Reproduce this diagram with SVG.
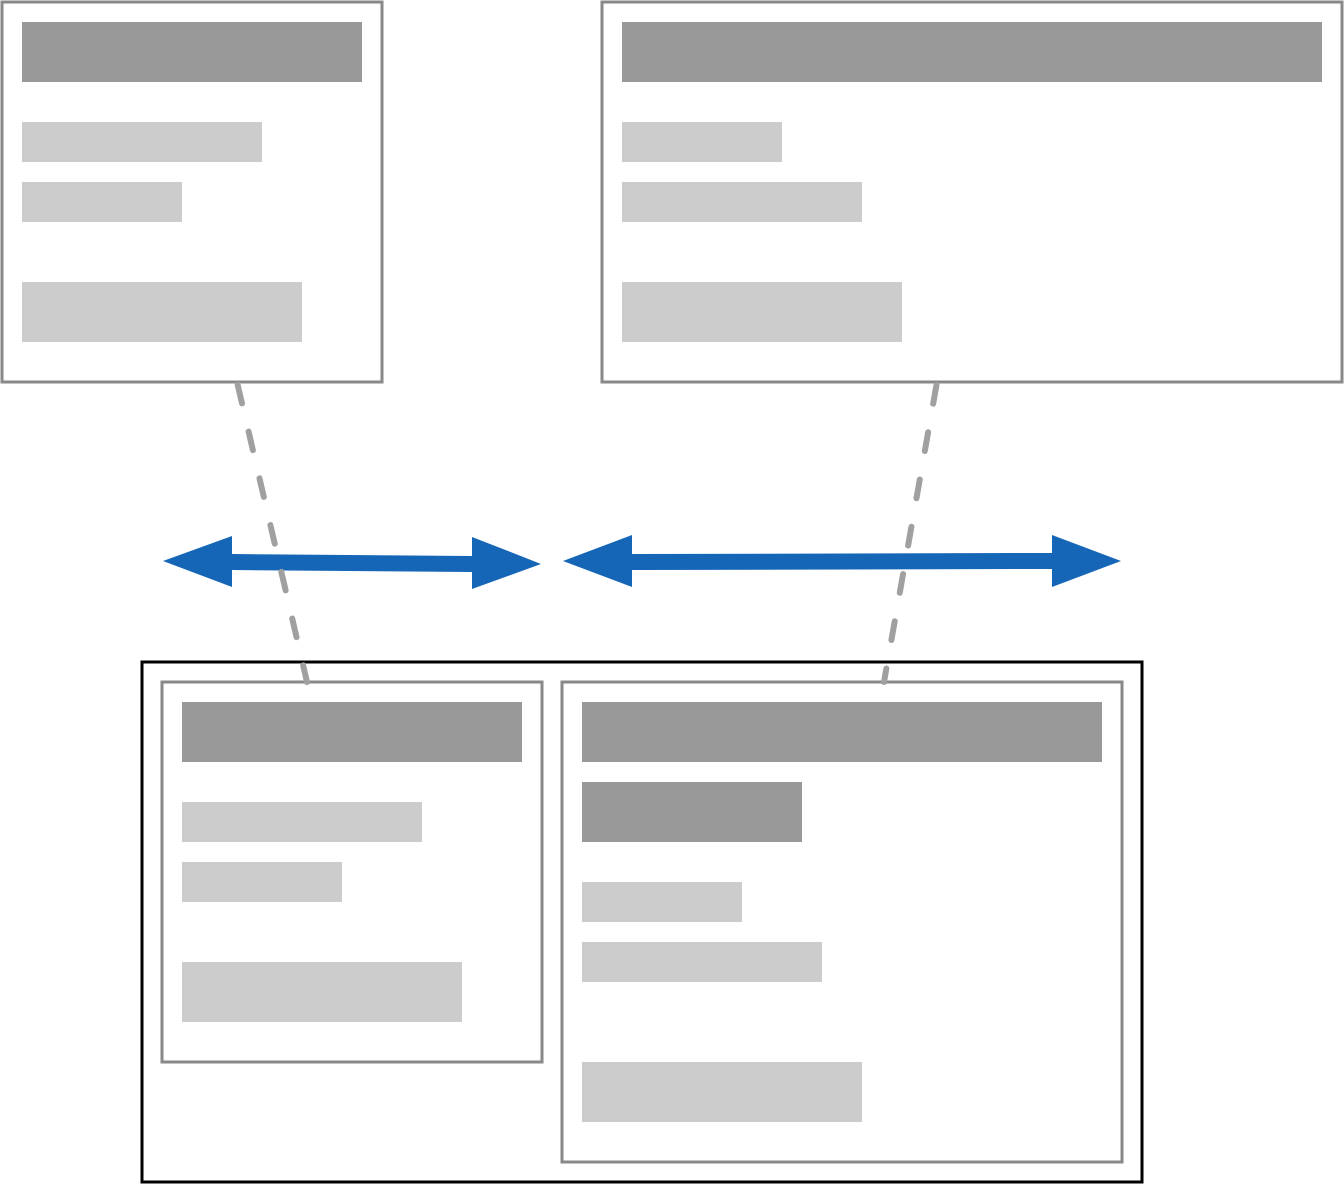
<svg xmlns="http://www.w3.org/2000/svg" width="1344" height="1184" viewBox="0 0 1344 1184">
<style>
.box{fill:#fff;stroke:#888;stroke-width:3}
.outer{fill:#fff;stroke:#000;stroke-width:3}
.hd{fill:#999}
.ln{fill:#ccc}
.arr{fill:#1666b7}
.dash{fill:none;stroke:#a0a0a0;stroke-width:6;stroke-linecap:round;stroke-dasharray:19 29;stroke-dashoffset:-3}
</style>
<rect width="1344" height="1184" fill="#fff"/>
<g id="node-top-left">
<rect class="box" x="2" y="2" width="380" height="380"/>
<rect class="hd" x="22" y="22" width="340" height="60"/>
<rect class="ln" x="22" y="122" width="240" height="40"/>
<rect class="ln" x="22" y="182" width="160" height="40"/>
<rect class="ln" x="22" y="282" width="280" height="60"/>
</g>
<g id="node-top-right">
<rect class="box" x="602" y="2" width="740" height="380"/>
<rect class="hd" x="622" y="22" width="700" height="60"/>
<rect class="ln" x="622" y="122" width="160" height="40"/>
<rect class="ln" x="622" y="182" width="240" height="40"/>
<rect class="ln" x="622" y="282" width="280" height="60"/>
</g>
<g id="node-bottom-group">
<rect class="outer" x="142" y="662" width="1000" height="520"/>
</g>
<g id="node-bottom-left">
<rect class="box" x="162" y="682" width="380" height="380"/>
<rect class="hd" x="182" y="702" width="340" height="60"/>
<rect class="ln" x="182" y="802" width="240" height="40"/>
<rect class="ln" x="182" y="862" width="160" height="40"/>
<rect class="ln" x="182" y="962" width="280" height="60"/>
</g>
<g id="node-bottom-right">
<rect class="box" x="562" y="682" width="560" height="480"/>
<rect class="hd" x="582" y="702" width="520" height="60"/>
<rect class="hd" x="582" y="782" width="220" height="60"/>
<rect class="ln" x="582" y="882" width="160" height="40"/>
<rect class="ln" x="582" y="942" width="240" height="40"/>
<rect class="ln" x="582" y="1062" width="280" height="60"/>
</g>
<g id="connectors">
<polygon class="arr" points="163,561 232,536 232,554 472,556 472,537 541,564 472,589 472,572 232,570 232,587"/>
<polygon class="arr" points="563,561 632,535 632,554 1052,553 1052,535 1121,561 1052,587 1052,569 632,570 632,587"/>
<line class="dash" x1="237" y1="382" x2="307" y2="682"/>
<line class="dash" x1="937" y1="382" x2="884" y2="682"/>
</g>
</svg>
